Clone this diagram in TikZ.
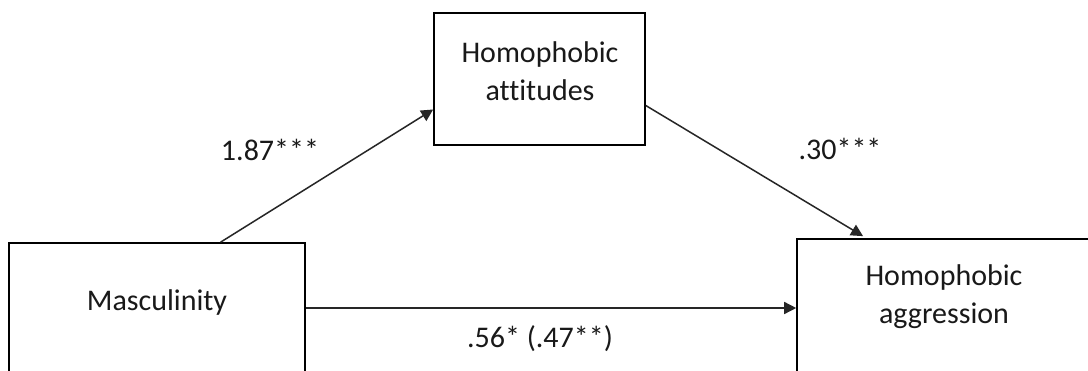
\documentclass[tikz,border=0pt]{standalone}
\usepackage{fontspec}
\setmainfont[Ligatures=NoCommon]{Carlito}
\usetikzlibrary{arrows.meta}
\tikzset{
	box/.style={draw, line width=0.8pt, inner sep=0pt},
	txt/.style={font=\fontsize{15}{19}\selectfont, text=black!90, align=center, inner sep=0pt},
	arr/.style={-{Triangle[length=6pt,width=6pt]}, line width=0.75pt, black!85}
}
\begin{document}
\begin{tikzpicture}[x=0.5pt, y=-0.5pt]
	\path[use as bounding box, clip] (0,0) rectangle (1088,370);
	\fill[white] (0,0) rectangle (1088,370);
	% boxes (bottoms run off the page)
	\node[box, minimum width=148pt, minimum height=65pt] (masc) at (157,308) {};
	\node[box, minimum width=105.5pt, minimum height=66pt] (att) at (539.5,79) {};
	\node[box, minimum width=147pt, minimum height=69pt] (aggr) at (944,308) {};
	\node[txt, anchor=base] (masc-t) at (157,310) {Masculinity};
	\node[txt] (att-t) at (540,71) {Homophobic\\attitudes};
	\node[txt] (aggr-t) at (944,297) {Homophobic\\aggression};
	% paths
	\draw[arr] (masc.46) -- (att.196);
	\draw[arr, shorten >=2pt] (att.-14) -- (aggr.138);
	\draw[arr] (masc.east) -- (aggr.west);
	\node[txt, anchor=base] (a-lbl) at (270,160) {1.87***};
	\node[txt, anchor=base] (b-lbl) at (840,159) {.30***};
	\node[txt, anchor=base] (c-lbl) at (540,347) {.56* (.47**)};
\end{tikzpicture}
\end{document}
